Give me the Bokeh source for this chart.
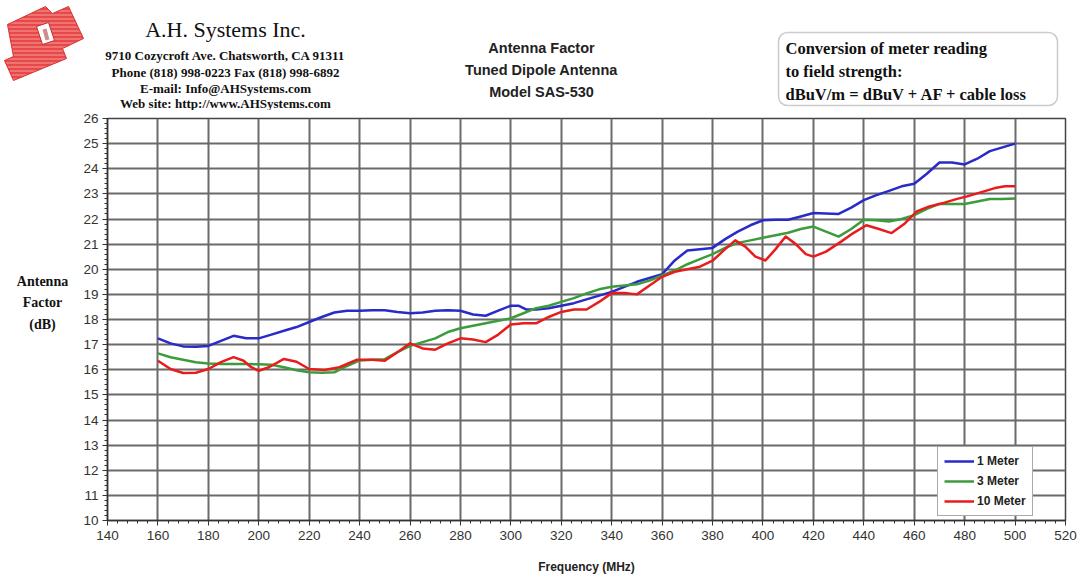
from bokeh.plotting import figure
from bokeh.layouts import column, row
from bokeh.models import Range1d, FixedTicker, Label, BoxAnnotation
from bokeh.embed import file_html
from bokeh.resources import INLINE

# ---------------- data ----------------
freq_1m = [160, 165, 170, 175, 180, 185, 190, 195, 200, 205, 210, 215, 220, 225, 230, 235, 240, 245, 250,
           255, 260, 265, 270, 275, 280, 285, 290, 295, 300, 303, 306, 310, 315, 320, 325, 330, 335, 340,
           345, 350, 355, 360, 365, 370, 375, 380, 385, 390, 395, 400, 405, 410, 415, 420, 425, 430, 435,
           440, 445, 450, 455, 460, 465, 470, 475, 480, 485, 490, 495, 500]
af_1m = [17.25, 17.05, 16.93, 16.92, 16.95, 17.15, 17.35, 17.25, 17.25, 17.4, 17.55, 17.7, 17.9, 18.1, 18.28,
         18.35, 18.35, 18.37, 18.37, 18.3, 18.25, 18.28, 18.35, 18.37, 18.35, 18.2, 18.15, 18.35, 18.55, 18.55,
         18.4, 18.4, 18.45, 18.55, 18.65, 18.8, 18.95, 19.1, 19.3, 19.5, 19.65, 19.8, 20.35, 20.75, 20.8, 20.85,
         21.2, 21.5, 21.75, 21.95, 21.97, 21.97, 22.1, 22.24, 22.22, 22.2, 22.45, 22.75, 22.95, 23.12, 23.3,
         23.4, 23.8, 24.25, 24.25, 24.17, 24.4, 24.7, 24.85, 25.0]

freq_3m = [160, 165, 170, 175, 180, 185, 190, 195, 200, 205, 210, 215, 220, 225, 230, 235, 240, 245, 250,
           255, 260, 265, 270, 275, 280, 285, 290, 295, 300, 305, 310, 315, 320, 325, 330, 335, 340, 345,
           350, 355, 360, 365, 370, 375, 380, 385, 390, 395, 400, 405, 410, 415, 420, 425, 430, 435, 440,
           445, 450, 455, 460, 465, 470, 475, 480, 485, 490, 495, 500]
af_3m = [16.65, 16.5, 16.4, 16.3, 16.25, 16.23, 16.23, 16.23, 16.22, 16.2, 16.1, 15.98, 15.9, 15.88, 15.9,
         16.15, 16.37, 16.4, 16.42, 16.7, 16.95, 17.1, 17.25, 17.5, 17.65, 17.75, 17.85, 17.95, 18.05, 18.25,
         18.45, 18.55, 18.7, 18.85, 19.04, 19.2, 19.3, 19.35, 19.4, 19.55, 19.75, 19.95, 20.2, 20.4, 20.6,
         20.85, 21.05, 21.15, 21.25, 21.35, 21.45, 21.6, 21.7, 21.5, 21.3, 21.6, 21.97, 21.95, 21.9, 22.0,
         22.15, 22.4, 22.6, 22.6, 22.6, 22.7, 22.8, 22.8, 22.82]

freq_10m = [160, 165, 170, 175, 180, 185, 190, 194, 197, 200, 204, 210, 215, 220, 226, 232, 239, 245, 250,
            255, 260, 265, 270, 275, 280, 285, 290, 295, 300, 305, 310, 315, 320, 325, 330, 335, 340, 345,
            350, 355, 360, 365, 370, 375, 380, 385, 389, 393, 397, 401, 405, 409, 413, 417, 420, 425, 431,
            436, 441, 446, 451, 456, 461, 466, 472, 477, 481, 486, 492, 496, 500]
af_10m = [16.36, 16.03, 15.87, 15.88, 16.03, 16.3, 16.5, 16.36, 16.1, 15.96, 16.1, 16.43, 16.32, 16.03, 15.99,
          16.1, 16.4, 16.4, 16.36, 16.7, 17.05, 16.85, 16.8, 17.05, 17.25, 17.2, 17.1, 17.4, 17.8, 17.85, 17.85,
          18.1, 18.3, 18.4, 18.4, 18.7, 19.05, 19.05, 19.0, 19.35, 19.7, 19.9, 20.0, 20.1, 20.34, 20.8, 21.15,
          20.9, 20.5, 20.35, 20.8, 21.3, 21.0, 20.6, 20.5, 20.7, 21.1, 21.45, 21.75, 21.6, 21.44, 21.8, 22.3,
          22.5, 22.65, 22.8, 22.9, 23.05, 23.23, 23.3, 23.3]

series_names = ["1 Meter", "3 Meter", "10 Meter"]
x_ticks = [140, 160, 180, 200, 220, 240, 260, 280, 300, 320, 340, 360, 380, 400, 420, 440, 460, 480, 500, 520]
y_ticks = [10, 11, 12, 13, 14, 15, 16, 17, 18, 19, 20, 21, 22, 23, 24, 25, 26]

header_lines = ["9710 Cozycroft Ave. Chatsworth, CA 91311",
                "Phone (818) 998-0223 Fax (818) 998-6892",
                "E-mail: Info@AHSystems.com",
                "Web site: http://www.AHSystems.com"]
title_lines = ["Antenna Factor", "Tuned Dipole Antenna", "Model SAS-530"]
note_lines = ["Conversion of meter reading", "to field strength:", "dBuV/m = dBuV + AF + cable loss"]
ylabel_lines = ["Antenna", "Factor", "(dB)"]

# ---------------- layout ----------------
TOTAL_W, TOTAL_H = 1084, 579
HEAD_H = 110           # header strip height
LEFT_W = 72            # y-label strip width
FL, FR, FT, FB = 107, 1065, 118, 520   # plot frame in page pixels

MAIN_W, MAIN_H = TOTAL_W - LEFT_W, TOTAL_H - HEAD_H


def style_blank(fig):
    fig.axis.visible = False
    fig.grid.visible = False
    fig.outline_line_color = None
    fig.background_fill_color = "white"
    fig.border_fill_color = "white"


# header figure: coordinates = page pixels
head = figure(width=TOTAL_W, height=HEAD_H, output_backend="svg", toolbar_location=None,
              x_range=Range1d(0, TOTAL_W), y_range=Range1d(HEAD_H, 0),
              min_border=0)
style_blank(head)

# logo
logo_x = [7, 45, 52, 68, 83, 62, 66, 13, 4, 13]
logo_y = [24, 6, 13, 6, 38, 48, 58, 80, 60, 56]
head.patch(logo_x, logo_y, fill_color="#e84848", line_color="#d83030", line_width=1,
           hatch_pattern="horizontal_line", hatch_color="white", hatch_scale=4,
           hatch_weight=0.8, hatch_alpha=0.6)
head.patch([36, 48, 54, 42], [26, 22, 40, 44], fill_color="white", line_color="#c03030", line_width=1)
head.patch([42, 46, 49, 45], [29, 28, 39, 40], fill_color="#b04040", line_color=None, fill_alpha=0.6)


def htext(fig, t, x, y, size, font="Liberation Serif", style="bold", align="center", color="#111111"):
    fig.add_layout(Label(x=x, y=y, text=t, text_font=font, text_font_size=size,
                         text_font_style=style, text_align=align, text_baseline="middle",
                         text_color=color))


htext(head, "A.H. Systems Inc.", 225, 29, "22px", style="normal")
for t, yy in zip(header_lines, [55, 72, 88, 103]):
    htext(head, t, 225, yy, "13px")
for t, yy in zip(title_lines, [47, 69, 91]):
    htext(head, t, 541, yy, "14.5px", font="Liberation Sans", color="#222222")

head.add_layout(BoxAnnotation(left=778, right=1057, top=32, bottom=105,
                              fill_color="white", fill_alpha=1.0, line_color="#555555",
                              line_width=1.5, border_radius=9))
for t, yy in zip(note_lines, [48, 71, 94]):
    htext(head, t, 785, yy, "16.5px", align="left")

# y-label strip (its frame is aligned with the main chart's frame: page y FT..FB)
left = figure(width=LEFT_W, height=MAIN_H, output_backend="svg", toolbar_location=None,
              x_range=Range1d(0, LEFT_W), y_range=Range1d(FB, FT), min_border=0)
style_blank(left)
for t, yy in zip(ylabel_lines, [281, 302, 324]):
    htext(left, t, 42, yy, "14px")

# main chart
p = figure(width=MAIN_W, height=MAIN_H, output_backend="svg", toolbar_location=None,
           x_range=Range1d(140, 520), y_range=Range1d(10, 26),
           min_border_left=FL - LEFT_W, min_border_right=TOTAL_W - FR,
           min_border_top=FT - HEAD_H, min_border_bottom=TOTAL_H - FB)
p.background_fill_color = "white"
p.border_fill_color = "white"
p.outline_line_color = "#444444"
p.outline_line_width = 1.5

x_minor = [140 + 4 * i for i in range(96)]
y_minor = [round(10 + 0.2 * i, 1) for i in range(81)]
p.xaxis.ticker = FixedTicker(ticks=x_ticks, minor_ticks=x_minor)
p.yaxis.ticker = FixedTicker(ticks=y_ticks, minor_ticks=y_minor)
for ax in (p.xaxis, p.yaxis):
    ax.axis_line_color = "#333333"
    ax.axis_line_width = 1.5
    ax.major_tick_line_color = "#333333"
    ax.minor_tick_line_color = "#333333"
    ax.major_tick_in = 0
    ax.major_tick_out = 5
    ax.minor_tick_in = 0
    ax.minor_tick_out = 3
    ax.major_label_text_font = "Liberation Sans"
    ax.major_label_text_font_size = "13.5px"
    ax.major_label_text_color = "#333333"
p.xaxis.major_label_standoff = 5
p.yaxis.major_label_standoff = 4
p.xaxis.axis_label = "Frequency (MHz)"
p.xaxis.axis_label_text_font = "Liberation Sans"
p.xaxis.axis_label_text_font_style = "bold"
p.xaxis.axis_label_text_font_size = "12px"
p.xaxis.axis_label_text_color = "#222222"
p.xaxis.axis_label_standoff = 17

p.xgrid.ticker = FixedTicker(ticks=x_ticks)
p.ygrid.ticker = FixedTicker(ticks=y_ticks)
p.grid.grid_line_color = "#6a6a6a"
p.grid.grid_line_width = 2
p.grid.grid_line_alpha = 1.0

colors = ["#2a2ac8", "#3c9c3c", "#e81c1c"]
for fr, af, name, c in zip([freq_1m, freq_3m, freq_10m], [af_1m, af_3m, af_10m], series_names, colors):
    p.line(fr, af, line_color=c, line_width=2.5, legend_label=name, line_join="round")

lg = p.legend[0]
lg.location = (937 - FL, FB - 516)
lg.border_line_color = "#555555"
lg.border_line_width = 1.5
lg.background_fill_color = "white"
lg.background_fill_alpha = 1.0
lg.label_text_font = "Liberation Sans"
lg.label_text_font_style = "bold"
lg.label_text_font_size = "12px"
lg.label_text_color = "#222222"
lg.glyph_width = 30
lg.glyph_height = 16
lg.label_standoff = 3
lg.spacing = 4
lg.padding = 6
lg.margin = 0

layout = column(head, row(left, p, spacing=0), spacing=0)
open("out.html", "w").write(file_html(layout, INLINE))
